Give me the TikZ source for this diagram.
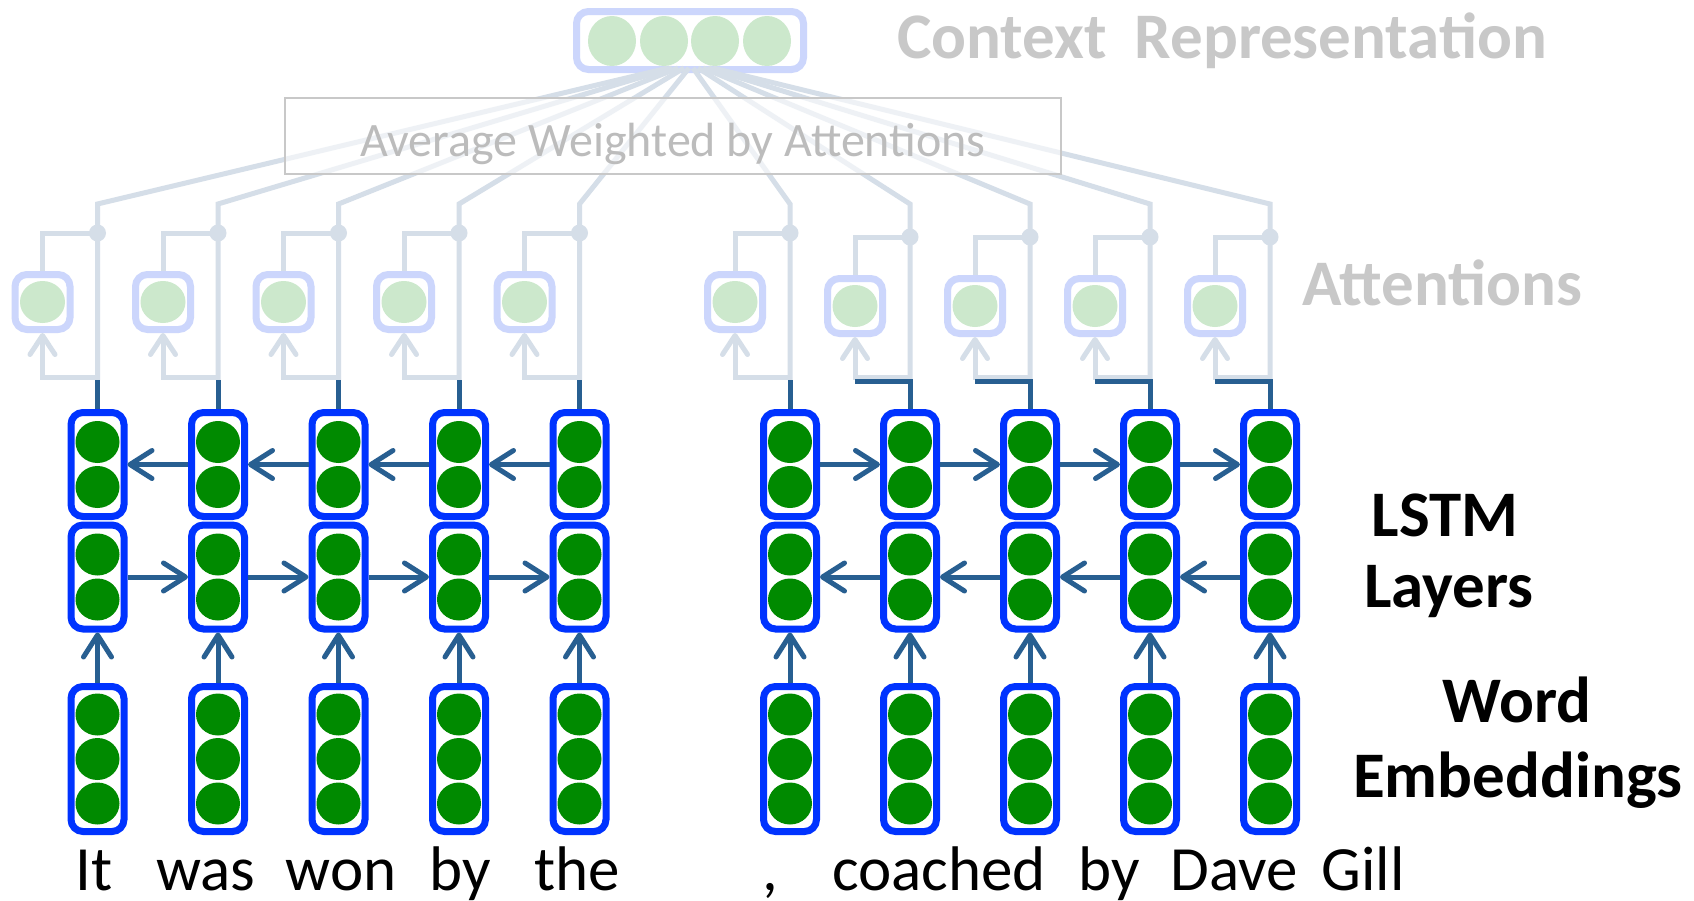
\documentclass[tikz,border=0pt]{standalone}
\usepackage{fontspec}
\setmainfont{Carlito}
\usetikzlibrary{arrows.meta}

\definecolor{boxblue}{RGB}{0,51,255}
\definecolor{cellgreen}{RGB}{0,138,0}
\definecolor{flowblue}{RGB}{40,95,145}
\definecolor{fadeline}{RGB}{213,222,232}
\definecolor{fadebox}{RGB}{204,214,252}
\definecolor{fadegreen}{RGB}{204,232,204}
\definecolor{labelgray}{RGB}{200,200,200}
\definecolor{avggray}{RGB}{188,188,188}
\definecolor{avgframe}{RGB}{200,200,200}

\tikzset{
  cellbox/.style={draw=boxblue, line width=7pt, rounded corners=12pt,
    minimum width=53pt, inner sep=0pt, fill=white},
  lstmbox/.style={cellbox, minimum height=104pt},
  embbox/.style={cellbox, minimum height=145pt},
  attbox/.style={draw=fadebox, line width=7pt, rounded corners=12pt,
    minimum width=55pt, minimum height=55pt, inner sep=0pt, fill=white},
  ctxbox/.style={draw=fadebox, line width=7pt, rounded corners=12pt,
    minimum width=227pt, minimum height=58pt, inner sep=0pt, fill=white},
  flow/.style={draw=flowblue, line width=5pt,
    -{Straight Barb[length=22pt,width=28pt,round]}},
  stub/.style={draw=flowblue, line width=5pt},
  fade/.style={draw=fadeline, line width=5pt},
  fadearrow/.style={fade, -{Straight Barb[length=19pt,width=25pt,round]}},
  word/.style={anchor=base, inner sep=0pt, font=\fontsize{63}{75}\selectfont},
  sidelabel/.style={anchor=base, inner sep=0pt, font=\bfseries\fontsize{65}{78}\selectfont},
  greylabel/.style={anchor=base west, inner sep=0pt, text=labelgray,
    font=\bfseries\fontsize{65}{78}\selectfont},
}

\begin{document}
\begin{tikzpicture}[x=1pt,y=-1pt]
\useasboundingbox (0,0) rectangle (1694,900);
\fill[white] (0,0) rectangle (1694,900);

% context vector
\node[ctxbox] (ctx) at (690,40.5) {};
\foreach \cx in {612,664,715,767}
  \fill[fadegreen] (\cx,41) ellipse [x radius=24pt, y radius=25pt];

% attention branches of every column
\foreach \k/\x/\e in {1/97.5/668, 2/218/672, 3/338.5/678, 4/459/684, 5/579.5/689,
                      6/790/693, 7/910/698, 8/1030/703, 9/1150/708, 10/1270/713} {
  \pgfmathsetmacro\ax{\x-55}
  \pgfmathsetmacro\dy{ifthenelse(\k>6,237,233)}
  \pgfmathsetmacro\ay{ifthenelse(\k>6,306,302)}
  \draw[fade] (\x,380) -- (\x,204) -- (\e,68);
  \node[attbox] (a\k) at (\ax,\ay) {};
  \fill[fadegreen] (a\k) ellipse [x radius=22.5pt, y radius=21pt];
  \draw[fadearrow] (\x,377) -| (a\k.south);
  \draw[fade] (a\k.north) |- (\x,\dy);
  \fill[fadeline] (\x,\dy) circle (8.5pt);
}

% averaging box
\node[draw=avgframe, line width=2pt, fill=white, fill opacity=0.6,
      minimum width=776pt, minimum height=76pt, inner sep=0pt] (avg) at (673,136) {};
\node[anchor=base, inner sep=0pt, text=avggray, font=\fontsize{48}{56}\selectfont]
  (avgtext) at (673,156) {Average Weighted by Attentions};

% recurrent columns
\foreach \k/\x in {1/97.5, 2/218, 3/338.5, 4/459, 5/579.5,
                   6/790, 7/910, 8/1030, 9/1150, 10/1270} {
  \pgfmathsetmacro\ax{\x-55}
  \node[lstmbox] (u\k) at (\x,464.5) {};
  \node[lstmbox] (l\k) at (\x,577) {};
  \node[embbox]  (w\k) at (\x,759) {};
  \foreach \cy in {442,487,554.5,599.5,714.5,759,803.5}
    \fill[cellgreen] (\x,\cy) ellipse [x radius=22pt, y radius=21pt];
  \draw[flow] (w\k.north) -- (l\k.south);
  \ifnum\k>6
    \draw[stub] (u\k.north) -- (\x,381) -- (\ax,381);
  \else
    \draw[stub] (u\k.north) -- (\x,380);
  \fi
}

% left sentence: backward upper layer, forward lower layer
\foreach \k in {1,...,4} {
  \pgfmathtruncatemacro\n{\k+1}
  \draw[flow] (u\n.west) -- (u\k.east);
  \draw[flow] (l\k.east) -- (l\n.west);
}
% right sentence: forward upper layer, backward lower layer
\foreach \k in {6,...,9} {
  \pgfmathtruncatemacro\n{\k+1}
  \draw[flow] (u\k.east) -- (u\n.west);
  \draw[flow] (l\n.west) -- (l\k.east);
}

% words
\node[word] (t1) at (94,890) {It};
\node[word] (t2) at (206,890) {was};
\node[word] (t3) at (341,890) {won};
\node[word] (t4) at (460,890) {by};
\node[word] (t5) at (577,890) {the};
\node[word] (t6) at (770,890) {,};
\node[word] (t7) at (939,890) {coached};
\node[word] (t8) at (1109,890) {by};
\node[word] (t9) at (1234,890) {Dave};
\node[word] (t10) at (1363,890) {Gill};

% side labels
\node[greylabel] (ctxlabel) at (897,58) {Context\hspace{28pt}Representation};
\node[greylabel] (attlabel) at (1302,305) {Attentions};
\node[sidelabel] (lstm1) at (1445,536) {LSTM};
\node[sidelabel] (lstm2) at (1449,607) {Layers};
\node[sidelabel] (emb1) at (1517,722) {Word};
\node[sidelabel] (emb2) at (1518,797) {Embeddings};
\end{tikzpicture}
\end{document}
